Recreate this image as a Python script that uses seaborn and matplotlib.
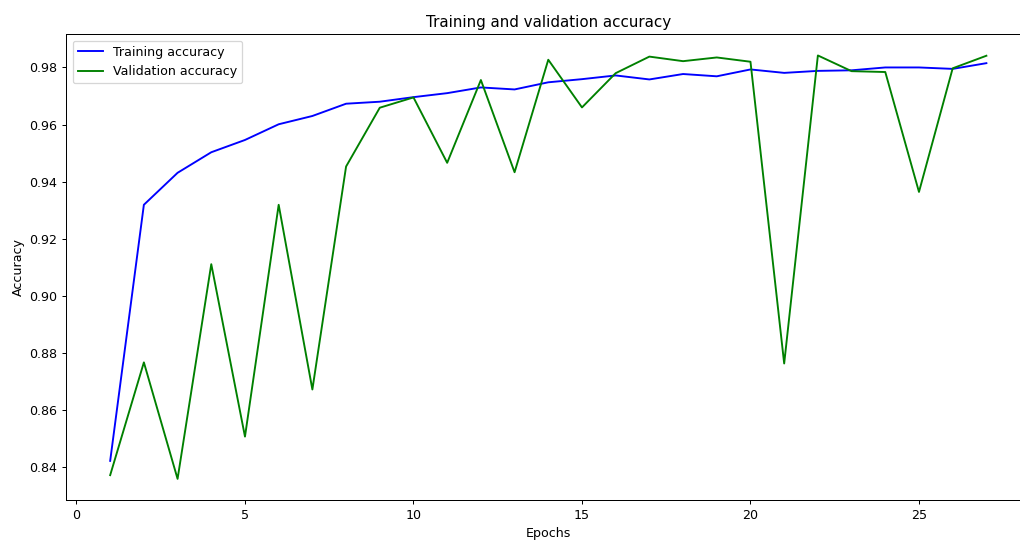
import seaborn as sns
import matplotlib.pyplot as plt

# accuracy per epoch
epochs = list(range(1, 28))
train_acc = [0.8422, 0.9319, 0.9431, 0.9503, 0.9546, 0.9601, 0.9630, 0.9673, 0.9680,
             0.9696, 0.9710, 0.9730, 0.9723, 0.9748, 0.9759, 0.9772, 0.9758, 0.9777,
             0.9769, 0.9793, 0.9781, 0.9788, 0.9790, 0.9800, 0.9800, 0.9795, 0.9815]
val_acc = [0.8372, 0.8767, 0.8359, 0.9111, 0.8507, 0.9319, 0.8672, 0.9453, 0.9659,
           0.9695, 0.9466, 0.9756, 0.9433, 0.9827, 0.9660, 0.9780, 0.9838, 0.9822,
           0.9835, 0.9820, 0.8763, 0.9842, 0.9787, 0.9784, 0.9364, 0.9797, 0.9841]

dpi = 91
fig = plt.figure(figsize=(1021 / dpi, 540 / dpi), dpi=dpi)
ax = fig.add_axes([0.065, 0.074, 0.944, 0.8625])

sns.lineplot(x=epochs, y=train_acc, color='b', label='Training accuracy', ax=ax)
sns.lineplot(x=epochs, y=val_acc, color='g', label='Validation accuracy', ax=ax)

ax.set_title('Training and validation accuracy')
ax.set_xlabel('Epochs')
ax.set_ylabel('Accuracy')
ax.legend(loc='upper left')

fig.savefig('out.png', dpi=dpi)
